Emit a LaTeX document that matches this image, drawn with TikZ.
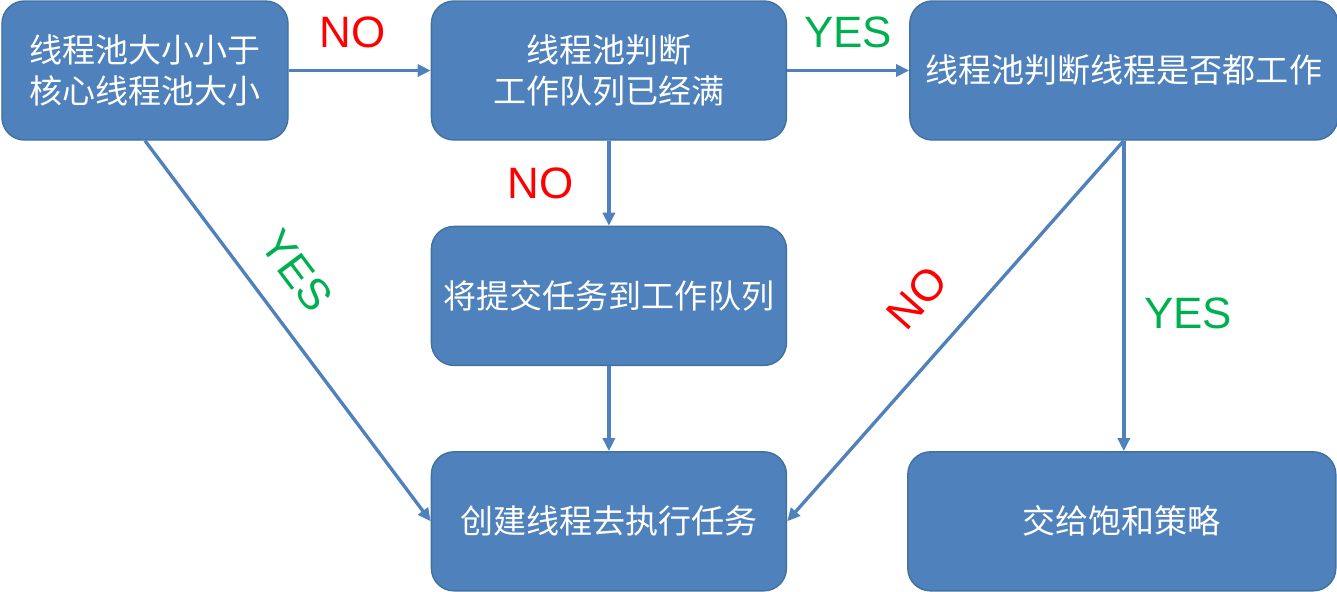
\documentclass[tikz,border=0pt]{standalone}
\usepackage{fontspec}
\usepackage{tikz}
\setmainfont{Liberation Sans}
\newfontfamily\cjk{Noto Sans CJK SC}
\usetikzlibrary{arrows.meta,positioning}
\definecolor{boxblue}{HTML}{4F81BD}
\definecolor{boxedge}{HTML}{41719C}
\definecolor{nored}{HTML}{FF0000}
\definecolor{yesgreen}{HTML}{00B050}

\begin{document}
\begin{tikzpicture}[
    box/.style={draw=boxedge, line width=0.8pt, rounded corners=0.45cm, fill=boxblue, text=white, minimum height=2.78cm, align=center, font=\cjk\fontsize{18.8}{23.5}\selectfont},
    arrow/.style={-{Triangle[length=2.6mm,width=2.4mm]}, line width=1.9pt, draw=boxblue},
    nolabel/.style={text=nored, inner sep=2pt, font=\fontsize{25}{30}\selectfont},
    yeslabel/.style={text=yesgreen, inner sep=2pt, font=\fontsize{25}{30}\selectfont}
]
\useasboundingbox (0,0) rectangle (26.74,-11.82);
\node[box, minimum width=5.72cm] (small) at (2.9,-1.41) {线程池大小小于\\核心线程池大小};
\node[box, minimum width=7.1cm, right=2.84cm of small] (queue) {线程池判断\\工作队列已经满};
\node[box, minimum width=8.56cm, right=2.44cm of queue] (busy) {线程池判断线程是否都工作};
\node[box, minimum width=7.1cm, below=1.7cm of queue] (submit) {将提交任务到工作队列};
\node[box, minimum width=7.1cm, below=1.7cm of submit] (create) {创建线程去执行任务};
\node[box, minimum width=8.56cm, right=2.4cm of create] (reject) {交给饱和策略};
\draw[arrow] (small) -- node[nolabel, above=0.34cm, pos=0.45] (no1) {NO} (queue);
\draw[arrow] (queue) -- node[yeslabel, above=0.34cm, pos=0.5] (yes1) {YES} (busy);
\draw[arrow] (queue) -- node[nolabel, left=0.6cm, pos=0.5] (no2) {NO} (submit);
\draw[arrow] (submit) -- (create);
\draw[arrow] (small.south) -- node[yeslabel, sloped, above=0.45cm, pos=0.41] (yes2) {YES} (create.west);
\draw[arrow] (busy.south) -- node[nolabel, sloped, above=0.6cm, pos=0.5] (no3) {NO} (create.east);
\draw[arrow] (busy.south) -- node[yeslabel, right=0.3cm, pos=0.555] (yes3) {YES} (busy.south |- reject.north);
\end{tikzpicture}
\end{document}
